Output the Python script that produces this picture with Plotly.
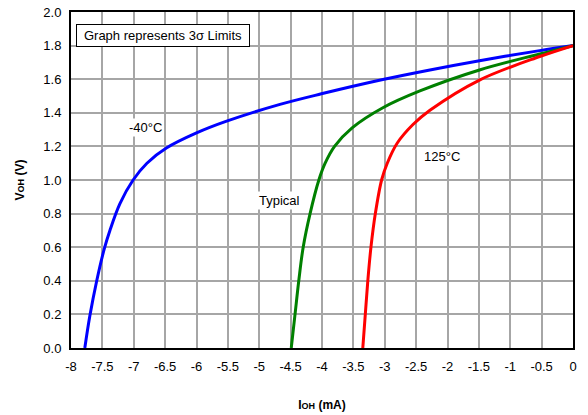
import plotly.graph_objects as go

# -40°C curve
x_m40 = [-7.78, -7.70, -7.59, -7.47, -7.38, -7.22, -7.01, -6.79, -6.48, -6.00, -5.52, -4.67, -4.01, -3.03, -2.28, -1.49, -0.53, 0.0]
y_m40 = [0.00, 0.19, 0.40, 0.59, 0.70, 0.86, 1.00, 1.10, 1.19, 1.28, 1.35, 1.45, 1.513, 1.598, 1.655, 1.71, 1.77, 1.80]

# Typical curve
x_typ = [-4.49, -4.43, -4.37, -4.30, -4.19, -4.05, -3.95, -3.80, -3.52, -3.03, -2.44, -1.49, -0.53, 0.0]
y_typ = [0.00, 0.20, 0.40, 0.60, 0.80, 1.00, 1.10, 1.20, 1.31, 1.43, 1.53, 1.655, 1.75, 1.80]

# 125°C curve
x_125 = [-3.35, -3.31, -3.27, -3.22, -3.15, -3.05, -2.96, -2.80, -2.55, -2.28, -1.49, -0.53, 0.0]
y_125 = [0.00, 0.20, 0.40, 0.60, 0.80, 1.00, 1.10, 1.22, 1.33, 1.415, 1.595, 1.735, 1.80]

x_tickvals = [-8, -7.5, -7, -6.5, -6, -5.5, -5, -4.5, -4, -3.5, -3, -2.5, -2, -1.5, -1, -0.5, 0]
x_ticktext = ["-8", "-7.5", "-7", "-6.5", "-6", "-5.5", "-5", "-4.5", "-4", "-3.5", "-3", "-2.5", "-2", "-1.5", "-1", "-0.5", "0"]
y_tickvals = [0.0, 0.2, 0.4, 0.6, 0.8, 1.0, 1.2, 1.4, 1.6, 1.8, 2.0]
y_ticktext = ["0.0", "0.2", "0.4", "0.6", "0.8", "1.0", "1.2", "1.4", "1.6", "1.8", "2.0"]

FONT = "Liberation Sans, Arial, sans-serif"

fig = go.Figure()
for xs, ys, col in [(x_m40, y_m40, "#0000ff"), (x_typ, y_typ, "#008000"), (x_125, y_125, "#ff0000")]:
    fig.add_trace(go.Scatter(x=xs, y=ys, mode="lines", line=dict(color=col, width=3, shape="spline", smoothing=1.0),
                             showlegend=False, hoverinfo="skip"))

fig.update_layout(
    width=588, height=415,
    margin=dict(l=71, r=15, t=12, b=67),
    paper_bgcolor="white", plot_bgcolor="white",
    font=dict(family=FONT, size=13, color="black"),
    xaxis=dict(range=[-8, 0], tickvals=x_tickvals, ticktext=x_ticktext,
               showgrid=True, gridcolor="#a6a6a6", gridwidth=1.5,
               showline=True, linecolor="black", linewidth=2, mirror=True,
               ticks="outside", ticklen=5, tickcolor="rgba(0,0,0,0)", zeroline=False, tickfont=dict(size=13),
               automargin=False,
               title=dict(text="<b>I<span style='font-size:9px'>OH</span> (mA)</b>", font=dict(size=12), standoff=28)),
    yaxis=dict(range=[0, 2.0], tickvals=y_tickvals, ticktext=y_ticktext,
               showgrid=True, gridcolor="#a6a6a6", gridwidth=1.5,
               showline=True, linecolor="black", linewidth=2, mirror=True,
               ticks="outside", ticklen=5, tickcolor="rgba(0,0,0,0)", zeroline=False, tickfont=dict(size=13),
               automargin=False,
               title=dict(text="<b>V<span style='font-size:9px'>OH</span> (V)</b>", font=dict(size=12), standoff=16)),
    annotations=[
        dict(x=-6.53, y=1.86, xref="x", yref="y", text="Graph represents 3σ Limits", showarrow=False,
             bgcolor="white", bordercolor="black", borderwidth=1, borderpad=3, width=166, height=15,
             font=dict(size=13)),
        dict(x=-6.82, y=1.31, xref="x", yref="y", text="-40°C", showarrow=False, bgcolor="white", font=dict(size=13)),
        dict(x=-4.67, y=0.88, xref="x", yref="y", text="Typical", showarrow=False, bgcolor="white", font=dict(size=13)),
        dict(x=-2.09, y=1.14, xref="x", yref="y", text="125°C", showarrow=False, bgcolor="white", font=dict(size=13)),
    ],
)

fig.write_html("out.html", config={"displayModeBar": False},
               post_script="document.body.style.margin='0';")
